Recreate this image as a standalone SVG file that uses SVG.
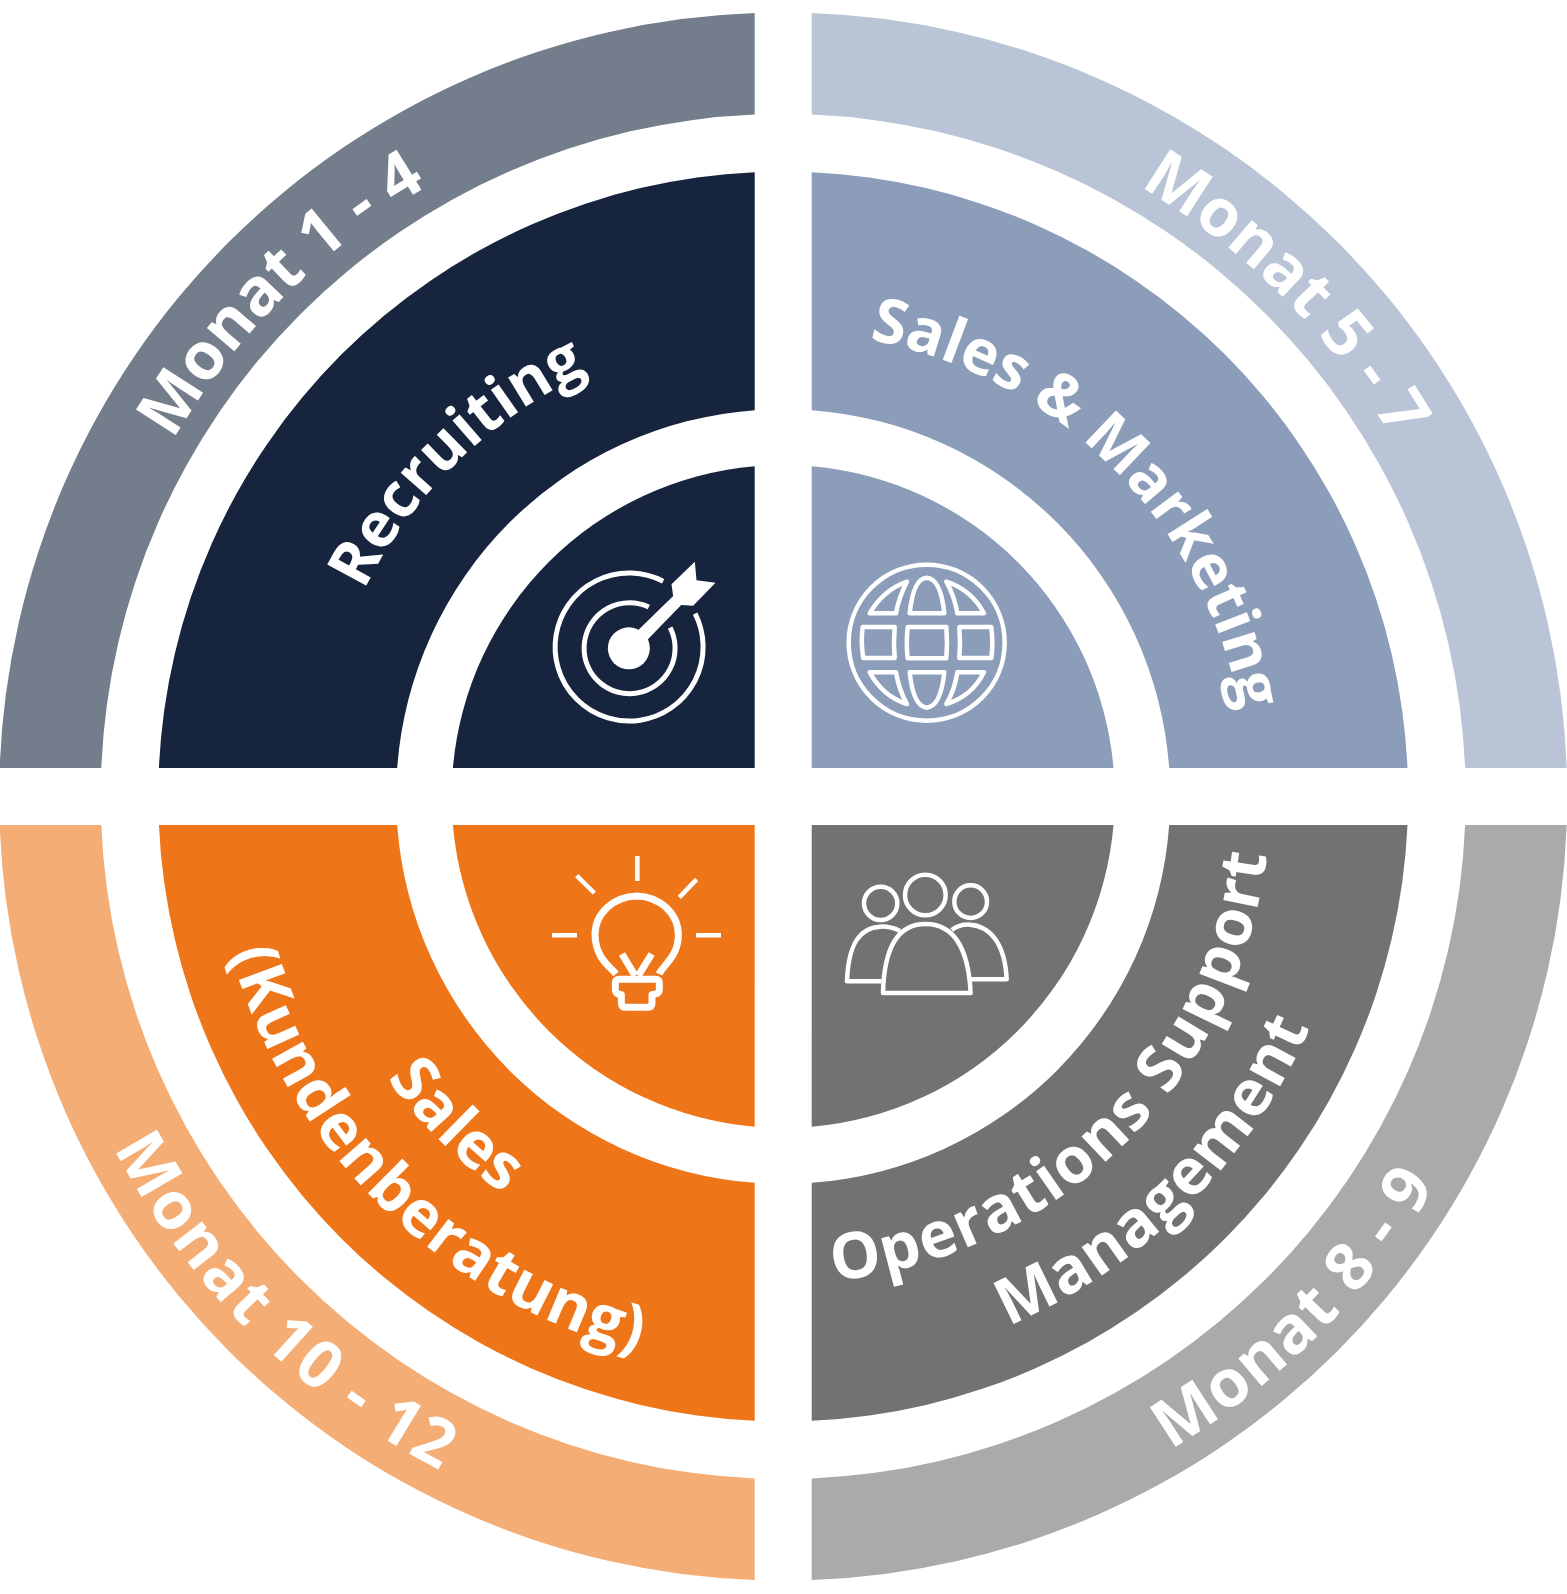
<svg xmlns="http://www.w3.org/2000/svg" xmlns:xlink="http://www.w3.org/1999/xlink" width="1567" height="1594" viewBox="0 0 1567 1594">
<style>
.l{font-family:"Open Sans","Noto Sans",sans-serif;font-weight:700;fill:#fff;text-anchor:middle}
.m{font-size:66px}
.s{font-size:62px}
.b{font-size:64px}
.i{fill:none;stroke:#fff;stroke-width:13.5;stroke-linejoin:round}
.f{fill:#fff}
</style>
<defs>
<path id="tlO" d="M76.7 796.5A706.5 706.5 0 0 1 783.2 90"/>
<path id="trO" d="M783.2 90A706.5 706.5 0 0 1 1489.7 796.5"/>
<path id="blO" d="M27.2 796.5A756 756 0 0 0 783.2 1552.5"/>
<path id="brO" d="M783.2 1555.5A759 759 0 0 0 1542.2 796.5"/>
<path id="tlI" d="M316.2 796.5A467 467 0 0 1 783.2 329.5"/>
<path id="trI" d="M783.2 331.5A465 465 0 0 1 1248.2 796.5"/>
<path id="bl1" d="M297.2 796.5A486 486 0 0 0 783.2 1282.5"/>
<path id="bl2" d="M209.2 796.5A574 574 0 0 0 783.2 1370.5"/>
<path id="br1" d="M783.2 1283.5A487 487 0 0 0 1270.2 796.5"/>
<path id="br2" d="M783.2 1371.5A575 575 0 0 0 1358.2 796.5"/>
</defs>
<g id="node-recruiting">
<path fill="#747D8B" d="M754.7 13V114.6A682.5 682.5 0 0 0 101.3 768H-0.3A784 784 0 0 1 754.7 13Z"/>
<path fill="#17243D" d="M754.7 172.2V410.2A387 387 0 0 0 397.2 768H158.9A625 625 0 0 1 754.7 172.2Z"/>
<path fill="#17243D" d="M754.7 466.2V768H452.9A331.5 331.5 0 0 1 754.7 466.2Z"/>
<text class="l m"><textPath href="#tlO" startOffset="50%">Monat 1 - 4</textPath></text>
<text class="l s"><textPath href="#tlI" startOffset="50.8%">Recruiting</textPath></text>
<g transform="translate(520.5 531) scale(.33333)">
<path class="i" style="stroke-width:15" d="M428 151A222 222 0 1 0 524 248"/>
<path class="i" style="stroke-width:15" d="M385 228A136.5 136.5 0 1 0 449 290"/>
<circle class="f" cx="325" cy="352" r="63"/>
<path class="f" d="M345 305L458 195 453 160 523 92 528 148 585 155 518 224 482 222 375 332Z"/>
</g>
</g>
<g id="node-sales-marketing">
<path fill="#B9C5D6" d="M811.7 13V114.6A682.5 682.5 0 0 1 1465.1 768H1566.7A784 784 0 0 0 811.7 13Z"/>
<path fill="#8B9DB8" d="M811.7 172.2V410.2A387 387 0 0 1 1169.2 768H1407.5A625 625 0 0 0 811.7 172.2Z"/>
<path fill="#8B9DB8" d="M811.7 466.2V768H1113.5A331.5 331.5 0 0 0 811.7 466.2Z"/>
<text class="l m"><textPath href="#trO" startOffset="50%">Monat 5 - 7</textPath></text>
<text class="l s"><textPath href="#trI" startOffset="50%">Sales &amp; Marketing</textPath></text>
<g transform="translate(520 530) scale(.33333)" class="i">
<circle cx="1220" cy="338" r="234"/>
<path d="M1049 250Q1090 180 1161 155Q1137 200 1128 250ZM1169 250Q1180 145 1220 143Q1262 145 1273 250ZM1279 155Q1304 200 1312 250H1392Q1355 180 1279 155ZM1028 291H1124Q1120 340 1124 384H1030Q1022 340 1028 291ZM1163 291H1279Q1283 340 1279 385H1163Q1158 340 1163 291ZM1318 291H1414Q1420 340 1414 384H1318Q1322 340 1318 291ZM1049 427H1128Q1137 480 1161 522Q1090 500 1049 427ZM1169 427H1273Q1262 530 1220 533Q1180 530 1169 427ZM1312 427H1392Q1355 500 1279 522Q1304 480 1312 427Z"/>
</g>
</g>
<g id="node-operations">
<path fill="#AAAAAA" d="M811.7 1580V1478.4A682.5 682.5 0 0 0 1465.1 825H1566.7A784 784 0 0 1 811.7 1580Z"/>
<path fill="#727272" d="M811.7 1420.8V1182.8A387 387 0 0 0 1169.2 825H1407.5A625 625 0 0 1 811.7 1420.8Z"/>
<path fill="#727272" d="M811.7 1126.8V825H1113.5A331.5 331.5 0 0 1 811.7 1126.8Z"/>
<text class="l m" style="letter-spacing:1.5px"><textPath href="#brO" startOffset="50%">Monat 8 - 9</textPath></text>
<text class="l b" style="letter-spacing:1.6px"><textPath href="#br1" startOffset="49.6%">Operations Support</textPath></text>
<text class="l b" style="letter-spacing:1.1px"><textPath href="#br2" startOffset="49.7%">Management</textPath></text>
<g transform="translate(520 830) scale(.33333)" class="i">
<circle cx="1082" cy="220" r="50"/>
<circle cx="1216" cy="195" r="61"/>
<circle cx="1352" cy="215" r="49"/>
<path d="M1089 489H1352C1345 350 1300 282 1216 282C1130 282 1092 360 1089 489Z"/>
<path d="M1140 303Q1110 288 1080 290C1020 293 985 340 981 454H1085"/>
<path d="M1295 300Q1320 282 1350 284C1410 288 1455 340 1460 448H1352"/>
</g>
</g>
<g id="node-sales">
<path fill="#F4AD75" d="M754.7 1580V1478.4A682.5 682.5 0 0 1 101.3 825H-0.3A784 784 0 0 0 754.7 1580Z"/>
<path fill="#EE7518" d="M754.7 1420.8V1182.8A387 387 0 0 1 397.2 825H158.9A625 625 0 0 0 754.7 1420.8Z"/>
<path fill="#EE7518" d="M754.7 1126.8V825H452.9A331.5 331.5 0 0 0 754.7 1126.8Z"/>
<text class="l m" style="letter-spacing:2.3px"><textPath href="#blO" startOffset="50.5%">Monat 10 - 12</textPath></text>
<text class="l b" style="letter-spacing:.5px"><textPath href="#bl1" startOffset="50.2%">Sales</textPath></text>
<text class="l b" style="letter-spacing:.8px"><textPath href="#bl2" startOffset="50.7%">(Kundenberatung)</textPath></text>
<g transform="translate(520 830) scale(.33333)" class="i">
<path d="M352 78V153M170 137L223 189M530 148L478 202M96 316H171M528 316H603"/>
</g>
<g transform="translate(560 880) scale(.33333)" class="i" style="stroke-width:21">
<path d="M168 282C150 260 107 235 105 165C105 100 160 50 230 48C300 50 355 100 355 165C355 230 310 255 297 282"/>
<path d="M178 298H286Q298 298 298 310V330Q298 342 276 344V368Q276 382 262 382H198Q184 382 184 368V344Q166 342 166 330V310Q166 298 178 298Z"/>
<path d="M186 222L225 287M275 222L235 287"/>
</g>
</g>
<g id="connectors"></g>
</svg>
